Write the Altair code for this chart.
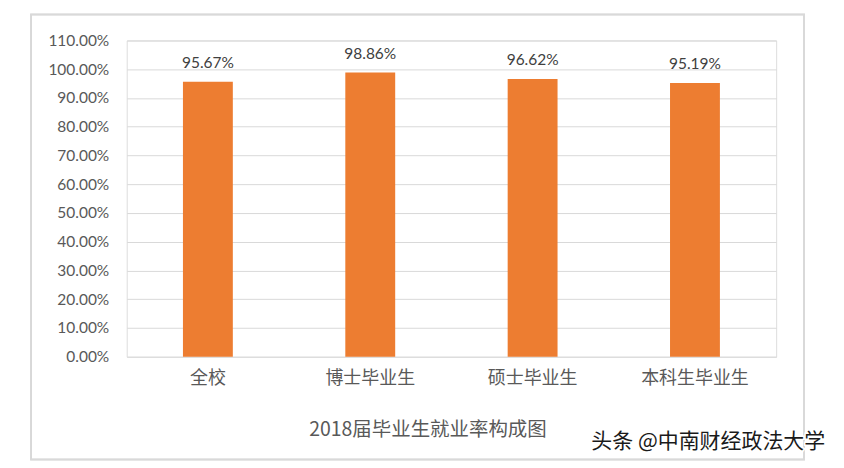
import altair as alt
import pandas as pd

categories = ["全校", "博士毕业生", "硕士毕业生", "本科生毕业生"]
rates = [0.9567, 0.9886, 0.9662, 0.9519]
y_ticks = [0.0, 0.1, 0.2, 0.3, 0.4, 0.5, 0.6, 0.7, 0.8, 0.9, 1.0, 1.1]
chart_title = "2018届毕业生就业率构成图"
watermark = "头条 @中南财经政法大学"

df = pd.DataFrame({"cat": categories, "rate": rates})

W, H = 651, 317
CJK = "Noto Sans CJK SC"
NUM = "Lato"

x_enc = alt.X("cat:N", sort=categories, title=None,
              scale=alt.Scale(paddingInner=0.69, paddingOuter=0.345),
              axis=alt.Axis(labelFont=CJK, labelFontSize=18, labelColor="#595959",
                            labelPadding=13, domain=False, ticks=False, labelAngle=0))
y_enc = alt.Y("rate:Q", title=None,
              scale=alt.Scale(domain=[0, 1.1], nice=False),
              axis=alt.Axis(values=y_ticks, format=".2%", labelFont=NUM, labelFontSize=15.5,
                            labelColor="#595959", labelPadding=18, domain=False, ticks=False,
                            labelOverlap=False, labelFlush=False, tickCount=12,
                            grid=True, gridColor="#d9d9d9", gridWidth=1))

bars = alt.Chart(df).mark_bar(color="#ED7D31", size=50).encode(x=x_enc, y=y_enc)

labels = alt.Chart(df).mark_text(font=NUM, fontSize=15.5, color="#404040", baseline="bottom", dy=-11).encode(
    x=x_enc,
    y=y_enc,
    text=alt.Text("rate:Q", format=".2%"),
)

border = alt.Chart(df).mark_rect(fill=None, stroke="#d9d9d9", strokeWidth=1.5).encode(
    x=alt.value(-96), x2=alt.value(679), y=alt.value(-26), y2=alt.value(420)
)

title_df = pd.DataFrame({"t": [chart_title]})
title_mark = alt.Chart(title_df).mark_text(font=CJK, fontSize=19.5, color="#595959", align="center", baseline="middle").encode(
    x=alt.value(302), y=alt.value(390), text="t:N"
)

wm_df = pd.DataFrame({"t": [watermark]})
wm_shadow = alt.Chart(wm_df).mark_text(font=CJK, fontSize=21, color="#ffffff", stroke="#ffffff", strokeWidth=3,
                                       align="center", baseline="middle").encode(
    x=alt.value(583), y=alt.value(403), text="t:N"
)
wm = alt.Chart(wm_df).mark_text(font=CJK, fontSize=21, color="#1a1a1a", align="center", baseline="middle").encode(
    x=alt.value(583), y=alt.value(403), text="t:N"
)

chart = alt.layer(border, bars, labels, title_mark, wm_shadow, wm).properties(
    width=W, height=H,
    autosize=alt.AutoSizeParams(type="none"),
    padding={"left": 119, "top": 32, "right": 60, "bottom": 108},
).configure_view(stroke=None).configure(background="#ffffff")

chart.save("out.html", embed_options={"renderer": "svg", "actions": False})
